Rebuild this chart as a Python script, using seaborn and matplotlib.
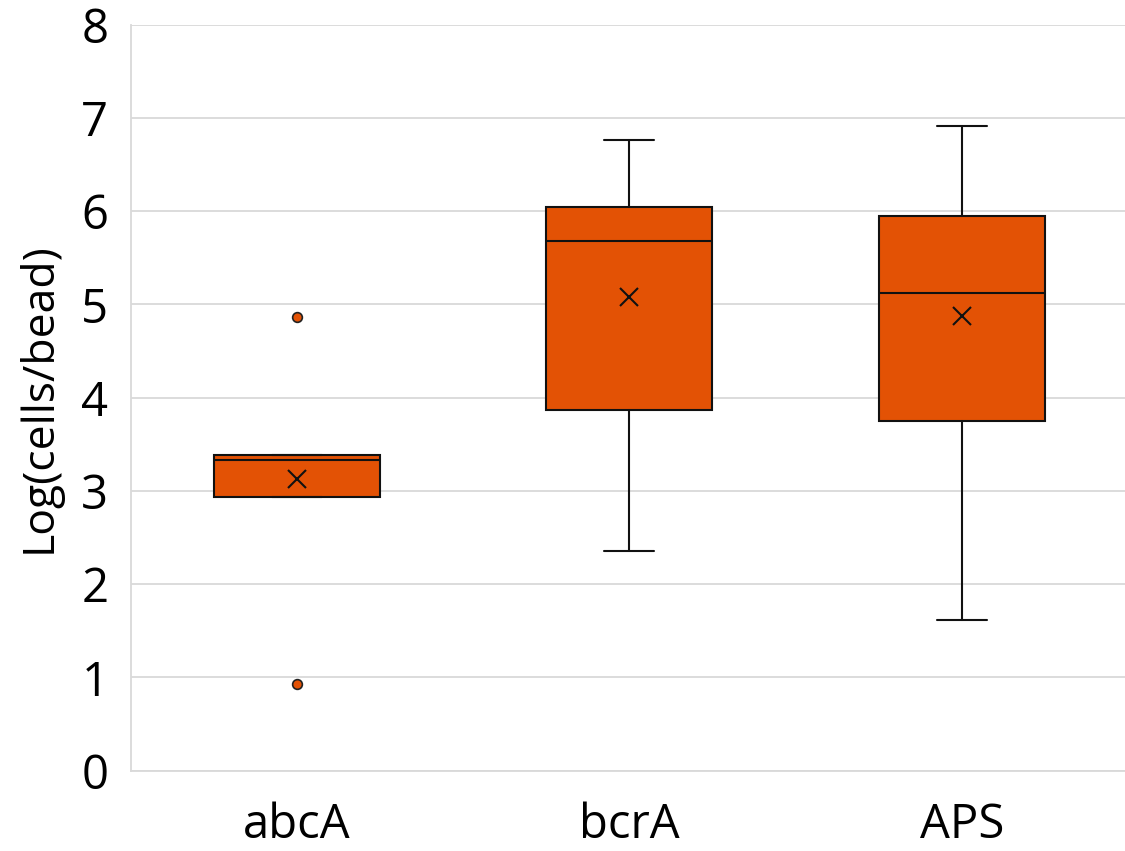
import matplotlib
matplotlib.use("Agg")
import matplotlib.pyplot as plt
import seaborn as sns

categories = ["abcA", "bcrA", "APS"]
whisker_low = [2.93, 2.35, 1.62]
q1_values = [2.93, 3.87, 3.75]
median_values = [3.33, 5.68, 5.12]
q3_values = [3.385, 6.04, 5.95]
whisker_high = [3.385, 6.76, 6.91]
mean_values = [3.13, 5.08, 4.88]
outlier_values = [[4.87, 0.93], [], []]
y_ticks = [0, 1, 2, 3, 4, 5, 6, 7, 8]

sns.set_theme(style="whitegrid")
plt.rcParams["font.family"] = ["Open Sans", "DejaVu Sans"]

fill = "#E35205"

fig = plt.figure(figsize=(11.25, 8.51), dpi=100)
ax = fig.add_axes([0.1160, 0.0945, 0.8867, 0.8765])

stats = []
for i, c in enumerate(categories):
    stats.append(dict(label=c, whislo=whisker_low[i], q1=q1_values[i], med=median_values[i],
                      q3=q3_values[i], whishi=whisker_high[i], mean=mean_values[i],
                      fliers=outlier_values[i]))

ax.bxp(stats, positions=range(len(categories)), widths=0.5, patch_artist=True,
       showmeans=True, showfliers=True,
       boxprops=dict(facecolor=fill, edgecolor="#111111", linewidth=1.5),
       medianprops=dict(color="#111111", linewidth=1.5),
       whiskerprops=dict(color="#111111", linewidth=1.5),
       capprops=dict(color="#111111", linewidth=1.5),
       capwidths=0.15,
       meanprops=dict(marker="x", markeredgecolor="#111111", markerfacecolor="none",
                      markersize=13, markeredgewidth=1.5),
       flierprops=dict(marker="o", markerfacecolor=fill, markeredgecolor="#222222",
                       markersize=7, markeredgewidth=1.2))

ax.set_xlim(-0.5, 2.5)
ax.set_ylim(0, 8)
ax.set_yticks(y_ticks)
ax.set_xticks(range(len(categories)))
ax.set_xticklabels(categories)
ax.tick_params(axis="both", labelsize=34, length=0, colors="black")
ax.tick_params(axis="y", pad=16)
ax.tick_params(axis="x", pad=22)
ax.grid(axis="y", color="#d9d9d9", linewidth=1.3)
ax.grid(axis="x", visible=False)
ax.set_axisbelow(True)
for s in ["top", "right"]:
    ax.spines[s].set_visible(False)
for s in ["left", "bottom"]:
    ax.spines[s].set_visible(True)
    ax.spines[s].set_color("#d9d9d9")
    ax.spines[s].set_linewidth(1.3)
ax.set_ylabel("Log(cells/bead)", fontsize=32, color="black", labelpad=14)
ax.set_facecolor("white")
fig.patch.set_facecolor("white")

fig.savefig("out.png", dpi=100, facecolor="white")
